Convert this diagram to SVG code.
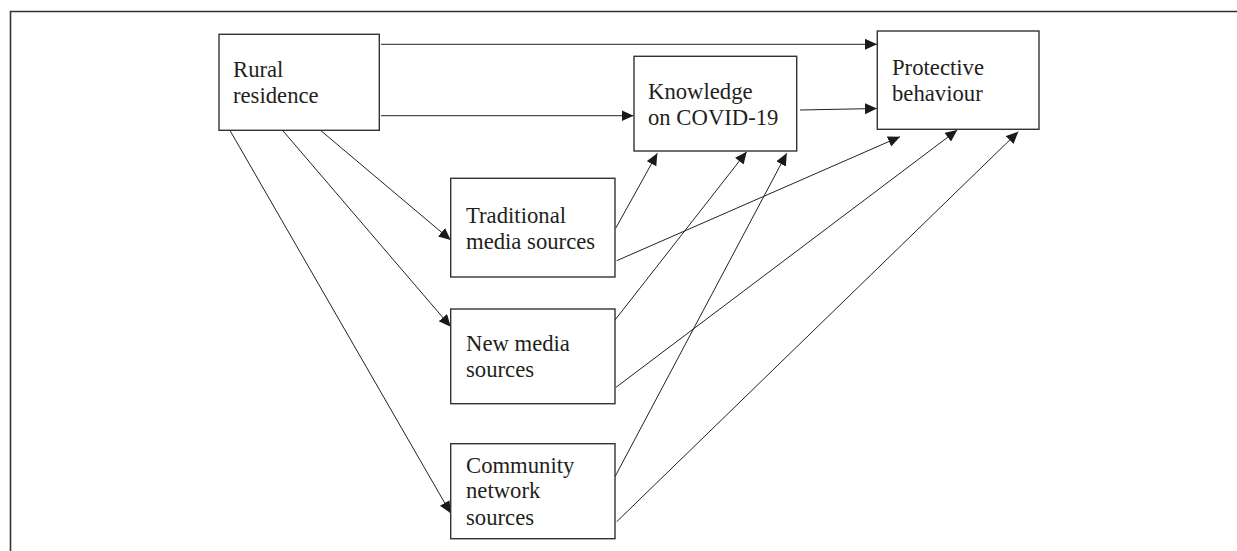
<svg xmlns="http://www.w3.org/2000/svg" width="1237" height="551" viewBox="0 0 1237 551">
<style>
.box{fill:#fff;stroke:#333;stroke-width:1.4}
.lbl{font-family:"Liberation Serif","Times New Roman",serif;font-size:22.7px;fill:#231f20}
.edge{fill:none;stroke:#222;stroke-width:1;marker-end:url(#ah)}
.frame{fill:none;stroke:#333;stroke-width:1.6}
</style>
<defs>
<marker id="ah" markerUnits="userSpaceOnUse" markerWidth="13" markerHeight="12" refX="12" refY="5.5" orient="auto">
<path d="M0,0 L12,5.5 L0,11 z" fill="#1a1a1a"/>
</marker>
</defs>
<rect width="1237" height="551" fill="#fff"/>
<path class="frame" d="M10.5,551 V11.5 H1237"/>
<g id="connectors">
<line class="edge" x1="381" y1="44.3" x2="877" y2="44.3"/>
<line class="edge" x1="381" y1="115.7" x2="633.5" y2="115.7"/>
<line class="edge" x1="800" y1="110" x2="877" y2="108.5"/>
<line class="edge" x1="320.7" y1="130.5" x2="450.7" y2="240"/>
<line class="edge" x1="282.7" y1="130.5" x2="450.7" y2="326.7"/>
<line class="edge" x1="230" y1="130.5" x2="450.7" y2="513.3"/>
<line class="edge" x1="615.7" y1="228.3" x2="657.3" y2="153.3"/>
<line class="edge" x1="616.7" y1="260.7" x2="900" y2="136.7"/>
<line class="edge" x1="615" y1="320" x2="746.7" y2="151.7"/>
<line class="edge" x1="616" y1="387.3" x2="957.3" y2="130"/>
<line class="edge" x1="615" y1="476.7" x2="786.7" y2="153.3"/>
<line class="edge" x1="616.7" y1="521.7" x2="1018.3" y2="131.7"/>
</g>
<g id="rural">
<rect class="box" x="219" y="34.3" width="160.3" height="96"/>
<text class="lbl" x="233" y="77">Rural</text>
<text class="lbl" x="233" y="103">residence</text>
</g>
<g id="knowledge">
<rect class="box" x="634" y="56.3" width="162.7" height="94.7"/>
<text class="lbl" x="648" y="99">Knowledge</text>
<text class="lbl" x="648" y="125">on COVID-19</text>
</g>
<g id="protective">
<rect class="box" x="877.3" y="31" width="161.7" height="98.3"/>
<text class="lbl" x="892" y="75">Protective</text>
<text class="lbl" x="892" y="101">behaviour</text>
</g>
<g id="traditional">
<rect class="box" x="450.7" y="178.3" width="164.3" height="98.7"/>
<text class="lbl" x="466" y="222.7">Traditional</text>
<text class="lbl" x="466" y="248.7">media sources</text>
</g>
<g id="newmedia">
<rect class="box" x="450.7" y="309" width="164.3" height="94.7"/>
<text class="lbl" x="466" y="351">New media</text>
<text class="lbl" x="466" y="377.3">sources</text>
</g>
<g id="community">
<rect class="box" x="450.7" y="443.7" width="164.3" height="95"/>
<text class="lbl" x="466" y="473.3">Community</text>
<text class="lbl" x="466" y="498.3">network</text>
<text class="lbl" x="466" y="525">sources</text>
</g>
</svg>
